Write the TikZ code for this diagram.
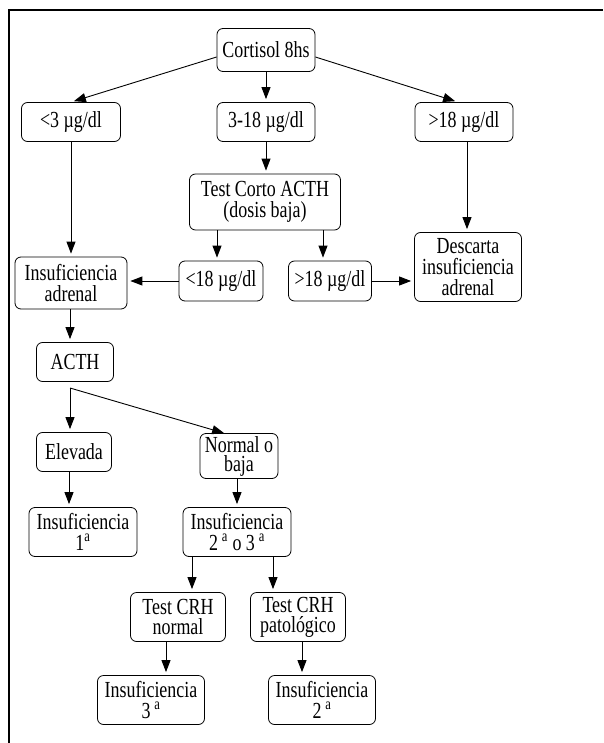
\documentclass[tikz,border=0pt]{standalone}
\usepackage{fontspec}
\setmainfont{Liberation Serif}[FakeStretch=0.78]
\usetikzlibrary{arrows.meta,calc}
\begin{document}
\begin{tikzpicture}[x=1pt,y=-1pt,
 box/.style={draw, rounded corners=6pt, align=center, inner sep=0pt, line width=0.8pt, font=\fontsize{23}{21}\selectfont},
 arr/.style={-{Triangle[length=12pt,width=9pt]}, line width=0.9pt, shorten >=3pt}]
\useasboundingbox (0,0) rectangle (603,743);
\draw[line width=1.3pt] (9,743) -- (9,10) -- (603,10);
% nodes
\node[box, minimum width=98pt, minimum height=43pt] (cort) at (266,50) {Cortisol 8hs};
\node[box, minimum width=99pt, minimum height=39pt] (lt3) at (71,122) {<3 µg/dl};
\node[box, minimum width=98pt, minimum height=39pt] (mid) at (266,122) {3-18 µg/dl};
\node[box, minimum width=98pt, minimum height=39pt] (gt18) at (464,122) {>18 µg/dl};
\node[box, minimum width=151pt, minimum height=56pt] (test) at (265,202) {Test Corto ACTH\\(dosis baja)};
\node[box, minimum width=112pt, minimum height=52pt] (insad) at (71,283) {Insuficiencia\\adrenal};
\node[box, minimum width=84pt, minimum height=40pt] (lt18) at (221,281) {<18 µg/dl};
\node[box, minimum width=83pt, minimum height=40pt] (gt18b) at (330,281) {>18 µg/dl};
\node[box, minimum width=107pt, minimum height=69pt] (desc) at (468,267) {Descarta\\insuficiencia\\adrenal};
\node[box, minimum width=77pt, minimum height=39pt] (acth) at (75,362) {ACTH};
\node[box, minimum width=75pt, minimum height=39pt] (elev) at (74,452) {Elevada};
\node[box, minimum width=78pt, minimum height=45pt, font=\fontsize{23}{19}\selectfont] (norm) at (239,456) {Normal o\\baja};
\node[box, minimum width=108pt, minimum height=49pt, font=\fontsize{23}{20.5}\selectfont] (ins1) at (83,532) {Insuficiencia\\1\textsuperscript{a}};
\node[box, minimum width=108pt, minimum height=49pt, font=\fontsize{23}{20.5}\selectfont] (ins23) at (237,532) {Insuficiencia\\2\,\textsuperscript{a} o 3\,\textsuperscript{a}};
\node[box, minimum width=95pt, minimum height=49pt, font=\fontsize{23}{20}\selectfont] (crhn) at (178,617) {Test CRH\\normal};
\node[box, minimum width=95pt, minimum height=49pt, font=\fontsize{23}{20}\selectfont] (crhp) at (298,617) {Test CRH\\patológico};
\node[box, minimum width=107pt, minimum height=49pt, font=\fontsize{23}{20.5}\selectfont] (ins3) at (151,700) {Insuficiencia\\3\,\textsuperscript{a}};
\node[box, minimum width=107pt, minimum height=49pt, font=\fontsize{23}{20.5}\selectfont] (ins2) at (322,700) {Insuficiencia\\2\,\textsuperscript{a}};
% helper coordinates
\coordinate (xg) at (467,0);
\coordinate (xl) at (458,0);
\coordinate (xa) at (217,0);
\coordinate (xb) at (323,0);
\coordinate (xe) at (69,0);
\coordinate (xn) at (237,0);
\coordinate (xc) at (192,0);
\coordinate (xp) at (273,0);
\coordinate (xq) at (166,0);
\coordinate (xr) at (302,0);
\coordinate (xi) at (70,0);
\coordinate (j) at (70,388);
\coordinate (nt) at (227,434);
% connectors
\draw[arr] ([yshift=-7pt]cort.west) -- (lt3.north);
\draw[arr] ([yshift=-7pt]cort.east) -- (gt18.north -| xl);
\draw[arr] (cort.south) -- (mid.north);
\draw[arr] (mid.south) -- (test.north -| mid.south);
\draw[arr] (lt3.south) -- (insad.north);
\draw[arr] (gt18.south -| xg) -- (desc.north -| xg);
\draw[arr] (test.south -| xa) -- (lt18.north -| xa);
\draw[arr] (test.south -| xb) -- (gt18b.north -| xb);
\draw[arr] (lt18.west) -- (insad.east |- lt18.west);
\draw[arr] (gt18b.east) -- (desc.west |- gt18b.east);
\draw[arr] (insad.south -| xi) -- (acth.north -| xi);
\draw[arr] (j) -- (elev.north -| j);
\draw[arr] (j) -- (nt);
\draw[arr] (elev.south -| xe) -- (ins1.north -| xe);
\draw[arr] (norm.south -| xn) -- (ins23.north -| xn);
\draw[arr] (ins23.south -| xc) -- (crhn.north -| xc);
\draw[arr] (ins23.south -| xp) -- (crhp.north -| xp);
\draw[arr] (crhn.south -| xq) -- (ins3.north -| xq);
\draw[arr] (crhp.south -| xr) -- (ins2.north -| xr);
\end{tikzpicture}
\end{document}
